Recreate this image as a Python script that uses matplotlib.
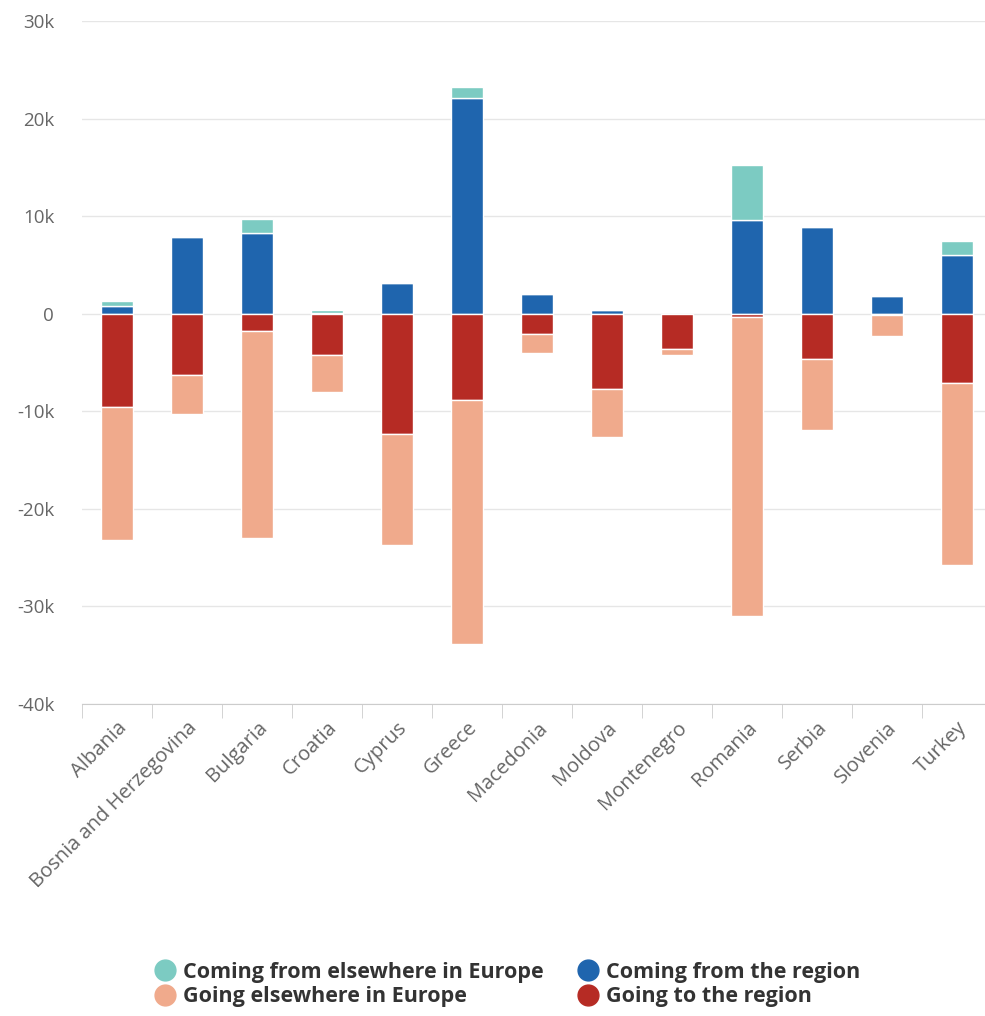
import numpy as np
import matplotlib.pyplot as plt
from matplotlib.lines import Line2D
from matplotlib.ticker import FuncFormatter, MultipleLocator

countries = ["Albania", "Bosnia and Herzegovina", "Bulgaria", "Croatia", "Cyprus",
             "Greece", "Macedonia", "Moldova", "Montenegro", "Romania", "Serbia",
             "Slovenia", "Turkey"]

# inflows (positive) and outflows (negative, drawn downward)
from_region = [800, 7900, 8300, 100, 3100, 22100, 2000, 350, 0, 9600, 8900, 1800, 6000]
from_europe = [500, 0, 1400, 300, 0, 1100, 0, 0, 0, 5600, 0, 0, 1500]
to_region = [9600, 6300, 1750, 4200, 12300, 8800, 2100, 7700, 3600, 300, 4600, 100, 7100]
to_europe = [13600, 3950, 21200, 3800, 11400, 25100, 1900, 4900, 600, 30700, 7300, 2200, 18700]

c_teal = "#7ccbc2"
c_blue = "#1f65ae"
c_red = "#b62b24"
c_salmon = "#f0aa8c"

plt.rcParams['font.family'] = ['Open Sans', 'DejaVu Sans']

fig = plt.figure(figsize=(9.85, 10.16), dpi=100)
ax = fig.add_axes([82/985, 1-704/1016, 910/985, (704-21)/1016])

x = np.arange(len(countries))
w = 0.47
fr = np.array(from_region)
fe = np.array(from_europe)
tr = -np.array(to_region)
te = -np.array(to_europe)

kw = dict(width=w, edgecolor="white", linewidth=1, zorder=3)
ax.bar(x, fr, color=c_blue, **kw)
ax.bar(x, fe, bottom=fr, color=c_teal, **kw)
ax.bar(x, tr, color=c_red, **kw)
ax.bar(x, te, bottom=tr, color=c_salmon, **kw)

ax.set_xlim(-0.5, len(countries) - 0.5)
ax.set_ylim(-40000, 30000)
ax.yaxis.set_major_locator(MultipleLocator(10000))
ax.yaxis.set_major_formatter(FuncFormatter(lambda v, p: "0" if v == 0 else "%dk" % (v / 1000)))
ax.grid(axis="y", color="#e6e6e6", linewidth=1, zorder=0)
ax.set_axisbelow(True)

for s in ["top", "right", "left"]:
    ax.spines[s].set_visible(False)
ax.spines["bottom"].set_color("#cccccc")

ax.set_xticks(x)
ax.set_xticklabels(countries, rotation=45, ha="right", va="top",
                   rotation_mode="anchor", fontsize=14.5, color="#666666")
ax.set_xticks(np.arange(len(countries) + 1) - 0.5, minor=True)
ax.tick_params(axis="x", which="major", length=0, pad=10)
ax.tick_params(axis="x", which="minor", length=10, color="#cccccc")
ax.tick_params(axis="y", length=0, labelsize=13.5, labelcolor="#666666", pad=20)

handles = [
    Line2D([], [], marker="o", linestyle="", color=c_teal, markersize=15, label="Coming from elsewhere in Europe"),
    Line2D([], [], marker="o", linestyle="", color=c_salmon, markersize=15, label="Going elsewhere in Europe"),
    Line2D([], [], marker="o", linestyle="", color=c_blue, markersize=15, label="Coming from the region"),
    Line2D([], [], marker="o", linestyle="", color=c_red, markersize=15, label="Going to the region"),
]
fig.legend(handles=handles, ncol=2, loc="center", bbox_to_anchor=(0.515, 0.031),
           frameon=False, prop={"weight": "bold", "size": 15.5}, labelcolor="#333333",
           handletextpad=0.3, columnspacing=1.6, labelspacing=0.15, handlelength=1.0)

fig.savefig("out.png", dpi=100, facecolor="white")
